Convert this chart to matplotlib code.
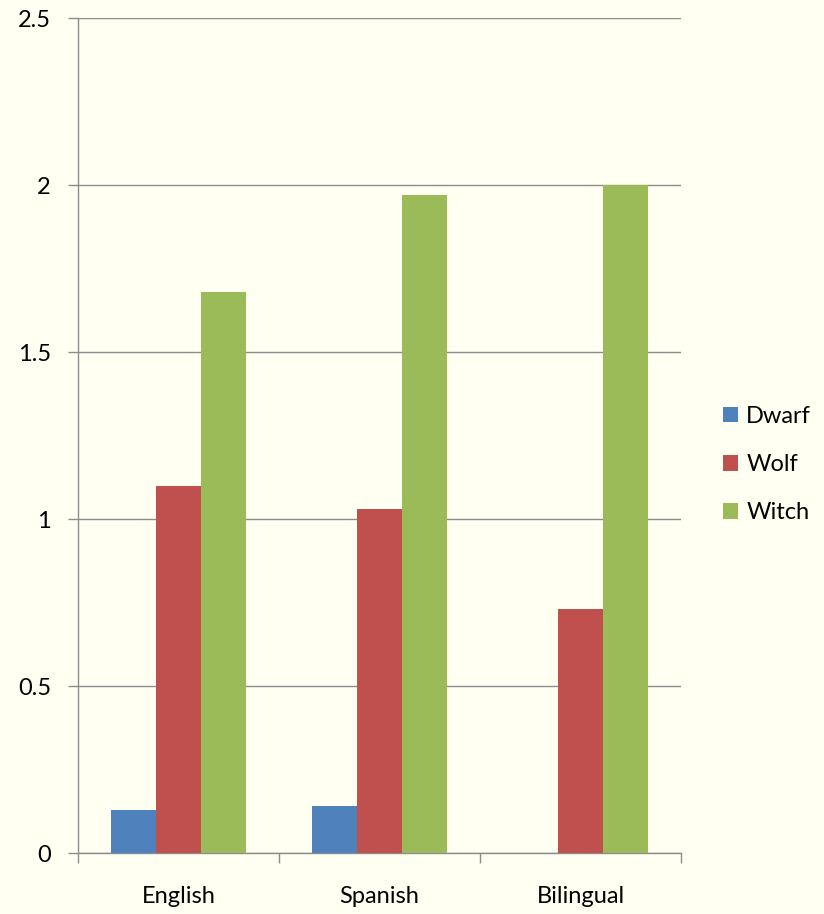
import matplotlib.pyplot as plt
import numpy as np

categories = ["English", "Spanish", "Bilingual"]
series = ["Dwarf", "Wolf", "Witch"]
dwarf = [0.13, 0.14, 0.0]
wolf = [1.10, 1.03, 0.73]
witch = [1.68, 1.97, 2.00]
yticks = [0, 0.5, 1, 1.5, 2, 2.5]
ytick_labels = ["0", "0.5", "1", "1.5", "2", "2.5"]

colors = ["#4F81BD", "#C0504D", "#9BBB59"]
bg = "#FFFFF2"
gray = "#8C8C8C"

plt.rcParams['font.family'] = ['Lato', 'DejaVu Sans']

fig = plt.figure(figsize=(8.24, 9.14), dpi=100, facecolor=bg)
ax = fig.add_axes([0.0947, 0.0667, 0.7318, 0.9136])
ax.set_facecolor(bg)

x = np.arange(len(categories))
w = 0.224
for i, (vals, name) in enumerate(zip([dwarf, wolf, witch], series)):
    ax.bar(x + (i - 1) * w, vals, w, color=colors[i], label=name, zorder=3)

ax.set_xlim(-0.5, 2.5)
ax.set_ylim(0, 2.5)
ax.set_yticks(yticks)
ax.set_yticklabels(ytick_labels)
ax.yaxis.grid(True, color=gray, linewidth=1, zorder=0)

ax.set_xticks(x)
ax.set_xticklabels(categories)
ax.set_xticks([-0.5, 0.5, 1.5, 2.5], minor=True)
ax.tick_params(axis='x', which='major', length=0, pad=24, labelsize=17)
ax.tick_params(axis='x', which='minor', length=7, color=gray, width=1)
ax.tick_params(axis='y', length=7.5, color=gray, width=1, pad=12, labelsize=17)

for s in ["top", "right"]:
    ax.spines[s].set_visible(False)
for s in ["left", "bottom"]:
    ax.spines[s].set_color(gray)
    ax.spines[s].set_linewidth(1)

ax.legend(loc='center left', bbox_to_anchor=(1.035, 0.465), frameon=False,
          fontsize=17, handlelength=0.62, handleheight=0.62, handletextpad=0.35,
          labelspacing=1.15)

fig.savefig("out.png", dpi=100, facecolor=bg)
